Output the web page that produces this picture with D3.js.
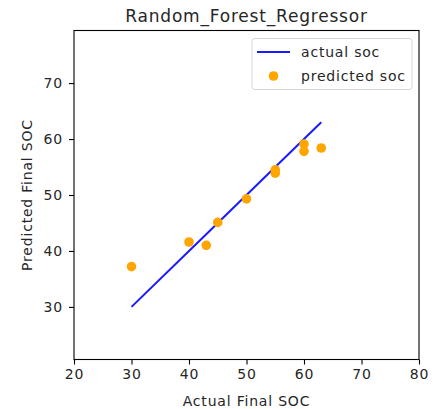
<!DOCTYPE html>
<html>
<head>
<meta charset="utf-8">
<script src="https://cdn.jsdelivr.net/npm/d3@7"></script>
<style>
  html, body { margin: 0; padding: 0; background: #fff; }
  svg { display: block; }
  text { font-family: "DejaVu Sans", sans-serif; fill: #262626; letter-spacing: 0.8px; }
</style>
</head>
<body>
<svg id="chart" width="433" height="409"></svg>
<script>
// Data
const actualSoc    = [30, 40, 43, 45, 50, 55, 55, 60, 60, 63];
const predictedSoc = [37.2, 41.6, 41.0, 45.1, 49.3, 54.5, 53.9, 59.1, 57.8, 58.4];
const xTicks = [20, 30, 40, 50, 60, 70, 80];
const yTicks = [30, 40, 50, 60, 70];
const xDomain = [20, 80];
const yDomain = [20.6, 79.4];
const titleText = "Random_Forest_Regressor";
const xLabel = "Actual Final SOC";
const yLabel = "Predicted Final SOC";
const legendLabels = ["actual soc", "predicted soc"];

const svg = d3.select("#chart");
const m = { left: 74, right: 419, top: 30.5, bottom: 359.5 };

const x = d3.scaleLinear().domain(xDomain).range([m.left, m.right]);
const y = d3.scaleLinear().domain(yDomain).range([m.bottom, m.top]);

// Axes
const xAxis = d3.axisBottom(x).tickValues(xTicks).tickSize(5).tickPadding(5).tickFormat(d3.format("d"));
const yAxis = d3.axisLeft(y).tickValues(yTicks).tickSize(5).tickPadding(6).tickFormat(d3.format("d"));

const gx = svg.append("g").attr("transform", `translate(0,${m.bottom})`).call(xAxis);
const gy = svg.append("g").attr("transform", `translate(${m.left},0)`).call(yAxis);
[gx, gy].forEach(g => {
  g.select(".domain").remove();
  g.selectAll(".tick line").attr("stroke", "#000").attr("stroke-width", 1.1);
  g.selectAll(".tick text").style("font-size", "14px").style("font-family", "DejaVu Sans, sans-serif").attr("fill", "#262626");
});

// Frame (spines)
svg.append("rect")
  .attr("x", m.left).attr("y", m.top)
  .attr("width", m.right - m.left).attr("height", m.bottom - m.top)
  .attr("fill", "none").attr("stroke", "#000").attr("stroke-width", 1.1);

// Line: actual vs actual
const line = d3.line().x(d => x(d)).y(d => y(d));
const sortedActual = actualSoc.slice().sort((a, b) => a - b);
svg.append("path")
  .datum(sortedActual)
  .attr("d", line)
  .attr("fill", "none")
  .attr("stroke", "#1a1aff")
  .attr("stroke-width", 2);

// Scatter: predicted
svg.append("g").selectAll("circle")
  .data(actualSoc.map((a, i) => ({ a, p: predictedSoc[i] })))
  .join("circle")
  .attr("cx", d => x(d.a))
  .attr("cy", d => y(d.p))
  .attr("r", 4.8)
  .attr("fill", "#FFA500");

// Title
svg.append("text")
  .attr("x", (m.left + m.right) / 2).attr("y", 22)
  .attr("text-anchor", "middle")
  .style("font-size", "17px")
  .text(titleText);

// Axis labels
svg.append("text")
  .attr("x", (m.left + m.right) / 2).attr("y", 406)
  .attr("text-anchor", "middle")
  .style("font-size", "14px")
  .text(xLabel);

svg.append("text")
  .attr("transform", `translate(32,${(m.top + m.bottom) / 2}) rotate(-90)`)
  .attr("text-anchor", "middle")
  .style("font-size", "14px")
  .text(yLabel);

// Legend
const lg = svg.append("g");
lg.append("rect")
  .attr("x", 252).attr("y", 38.5).attr("width", 160).attr("height", 51)
  .attr("rx", 3).attr("fill", "#fff").attr("fill-opacity", 0.8)
  .attr("stroke", "#d6d6d6").attr("stroke-width", 1);
lg.append("line")
  .attr("x1", 257).attr("x2", 290).attr("y1", 52).attr("y2", 52)
  .attr("stroke", "#1a1aff").attr("stroke-width", 2);
lg.append("circle")
  .attr("cx", 273.5).attr("cy", 76).attr("r", 4.8).attr("fill", "#FFA500");
lg.append("text").attr("x", 301).attr("y", 57).style("font-size", "14px").text(legendLabels[0]);
lg.append("text").attr("x", 301).attr("y", 81).style("font-size", "14px").text(legendLabels[1]);
</script>
</body>
</html>
